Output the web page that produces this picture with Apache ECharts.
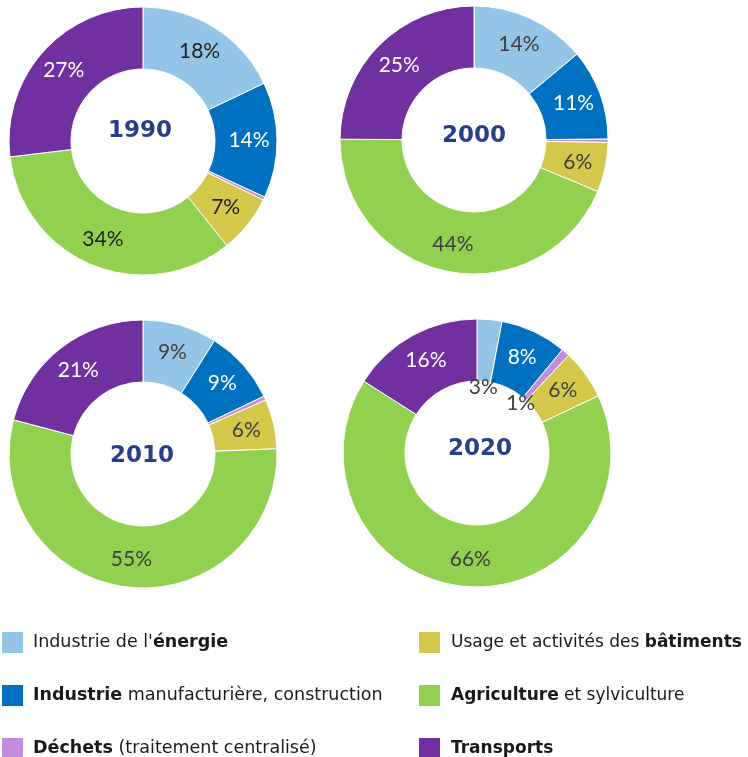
<!DOCTYPE html>
<html>
<head>
<meta charset="utf-8">
<script src="https://cdn.jsdelivr.net/npm/echarts@6/dist/echarts.min.js"></script>
<style>
html,body{margin:0;padding:0;background:#fff;}
#chart{width:748px;height:757px;}
</style>
</head>
<body>
<div id="chart"></div>
<script>
const categories = ["Industrie de l'énergie", "Industrie manufacturière, construction", "Déchets (traitement centralisé)", "Usage et activités des bâtiments", "Agriculture et sylviculture", "Transports"];
const legendLabels = ["Industrie de l'{b|énergie}", "{b|Industrie} manufacturière, construction", "{b|Déchets} (traitement centralisé)", "Usage et activités des {b|bâtiments}", "{b|Agriculture} et sylviculture", "{b|Transports}"];
const colors = ['#95c5e6', '#0070c0', '#c38ddb', '#d4c84a', '#92d050', '#7030a0'];
const labelOnDark = [false, true, false, false, false, true];
const years = ['1990', '2000', '2010', '2020'];
const v1990 = [18, 14, 0.4, 7, 34, 27];
const v2000 = [14, 11, 0.4, 6, 44, 25];
const v2010 = [9, 9, 0.5, 6, 55, 21];
const v2020 = [3, 8, 1, 6, 66, 16];
const valuesByYear = [v1990, v2000, v2010, v2020];

const centers = [[143, 141], [474, 140], [143, 454], [477, 453]];
const yearPos = [[140, 131], [474, 136], [142, 456], [480, 449]];
const darkLabel = ['#1e1e1e', '#404040', '#404040', '#404040'];
// items whose label sits in the hole (2020 small slices)
const holeLabelYear = 3;
const holeLabelItems = [0, 2];

const labelFont = "Lato, 'Liberation Sans', sans-serif";
const labelSize = 21;

const series = [];
valuesByYear.forEach((vals, yi) => {
  series.push({
    type: 'pie',
    center: centers[yi],
    radius: [72, 134],
    startAngle: 90,
    clockwise: true,
    silent: true,
    avoidLabelOverlap: false,
    itemStyle: { borderColor: '#fff', borderWidth: 1 },
    label: {
      show: true,
      position: 'inside',
      fontFamily: labelFont,
      fontSize: labelSize,
      formatter: p => (p.value >= 1 ? Math.round(p.value) + '%' : '')
    },
    labelLine: { show: false },
    data: vals.map((v, i) => {
      const hide = yi === holeLabelYear && holeLabelItems.includes(i);
      return {
        name: categories[i],
        value: v,
        itemStyle: { color: colors[i] },
        label: { show: !hide, color: labelOnDark[i] ? '#ffffff' : darkLabel[yi] }
      };
    })
  });
});
// overlay for labels placed inside the hole (2020)
series.push({
  type: 'pie',
  center: centers[holeLabelYear],
  radius: [46, 80],
  startAngle: 90,
  silent: true,
  avoidLabelOverlap: false,
  label: {
    show: true,
    position: 'inside',
    fontFamily: labelFont,
    fontSize: labelSize,
    color: '#404040',
    formatter: p => Math.round(p.value) + '%'
  },
  labelLine: { show: false },
  data: valuesByYear[holeLabelYear].map((v, i) => ({
    name: categories[i],
    value: v,
    itemStyle: { color: 'rgba(0,0,0,0)' },
    label: { show: holeLabelItems.includes(i) }
  }))
});

const legendText = {
  fontFamily: 'DejaVu Sans',
  fontSize: 17.5,
  color: '#1a1a1a',
  padding: [0, 0, 0, 4],
  rich: { b: { fontFamily: 'DejaVu Sans', fontSize: 17.5, fontWeight: 'bold', color: '#1a1a1a' } }
};
const legendTextRight = {
  fontFamily: 'DejaVu Sans',
  fontSize: 17,
  color: '#1a1a1a',
  padding: [0, 0, 0, 5],
  rich: { b: { fontFamily: 'DejaVu Sans', fontSize: 17, fontWeight: 'bold', color: '#1a1a1a' } }
};

const legendBase = {
  orient: 'vertical',
  top: 630,
  height: 200,
  padding: 0,
  itemWidth: 23,
  itemHeight: 23,
  itemGap: 28,
  icon: 'rect',
  selectedMode: false,
  formatter: name => legendLabels[categories.indexOf(name)]
};

const option = {
  animation: false,
  backgroundColor: '#ffffff',
  legend: [
    Object.assign({}, legendBase, { left: 0, data: categories.slice(0, 3), textStyle: legendText }),
    Object.assign({}, legendBase, { left: 417, data: categories.slice(3, 6), textStyle: legendTextRight })
  ],
  graphic: years.map((y, i) => ({
    type: 'text',
    x: yearPos[i][0],
    y: yearPos[i][1],
    silent: true,
    style: {
      text: y,
      align: 'center',
      verticalAlign: 'middle',
      font: "bold 23px 'DejaVu Sans'",
      fill: '#273f8a'
    }
  })),
  series: series
};

const chart = echarts.init(document.getElementById('chart'), null, { renderer: 'canvas' });
chart.setOption(option);
</script>
</body>
</html>
